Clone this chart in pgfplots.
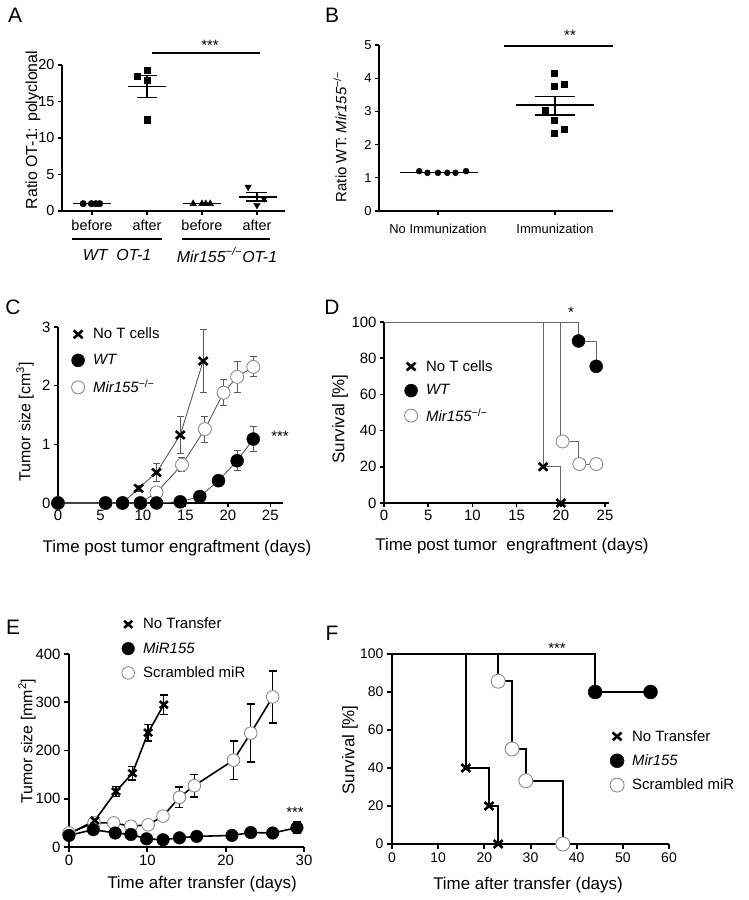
\documentclass[border=0pt]{standalone}
\usepackage{fontspec}
\setmainfont{Liberation Sans}
\usepackage{pgfplots}
\pgfplotsset{compat=1.18}
\newcommand{\fs}[1]{\fontsize{#1}{#1}\selectfont}
\newcommand{\ko}{\textsuperscript{−/−}}
\pgfplotsset{
 base/.style={scale only axis, anchor=south west, axis lines=left,
   axis line style={-, line width=#1}, tick align=outside, major tick length=4bp,
   tick style={black, line width=#1}, clip=false,
   /pgf/number format/assume math mode=true, legend cell align=left,
   legend image code/.code={\draw[##1] plot coordinates {(8bp,0bp)}; \path[draw=none,fill=none] (0bp,-7bp) rectangle (16bp,7bp);}},
 mX/.style={only marks, mark=x, black, mark size=#1, mark options={line width=2.6pt, xscale=1.15}},
 mF/.style={only marks, mark=*, black, mark size=#1},
 mO/.style={only marks, mark=*, mark size=#1, mark options={fill=white, draw=black!45, line width=0.9pt}},
 cline/.style={color=#1, line width=0.9pt, forget plot, error bars/.cd, y dir=both, y explicit,
   error bar style={color=#1, line width=0.9pt}, error mark options={rotate=90, color=#1, mark size=3.5bp, line width=0.9pt}},
 eline/.style={color=black, line width=1.6pt, forget plot, error bars/.cd, y dir=both, y explicit,
   error bar style={color=black, line width=1.4pt}, error mark options={rotate=90, color=black, mark size=4bp, line width=1.4pt}},
 sem/.style={black, line width=1.3pt, forget plot, error bars/.cd, y dir=both, y explicit,
   error bar style={line width=1.3pt}, error mark options={rotate=90, line width=1.3pt, mark size=#1}},
 leg/.style={legend style={at={#1}, anchor=north west, draw=none, fill=none,
    font=\fs{15}, inner sep=0pt, /tikz/every odd column/.append style={column sep=5bp}}},
}
\begin{document}
\begin{tikzpicture}
\useasboundingbox (0bp,0bp) rectangle (749bp,900bp);

% ---------------- A
\begin{axis}[base=1.2pt, at={(62bp,689bp)}, width=223bp, height=146bp,
  xmin=0.455, xmax=4.51, ymin=0, ymax=20, ytick={0,5,10,15,20},
  xtick={1,2,3,4}, xticklabels={before,after,before,after},
  tick label style={font=\fs{14.5}}, xticklabel style={yshift=-2bp}]
\addplot[mF=3.3bp] coordinates {(0.84,1.0)(0.99,1.0)(1.07,1.0)(1.14,1.0)};
\addplot[black, line width=1.3pt] coordinates {(0.66,1.0)(1.34,1.0)};
\addplot[only marks, mark=square*, black, mark size=3.2bp] coordinates {(1.82,18.5)(2.0,19.3)(2.0,17.9)(2.0,12.5)};
\addplot[black, line width=1.3pt] coordinates {(1.66,17.05)(2.34,17.05)};
\addplot[sem=10bp] coordinates {(2,17.05) +- (0,1.55)};
\addplot[only marks, mark=triangle*, black, mark size=3.8bp] coordinates {(2.84,1.0)(3.0,1.0)(3.07,1.0)(3.15,1.0)};
\addplot[black, line width=1.3pt] coordinates {(2.66,1.0)(3.34,1.0)};
\addplot[only marks, mark=triangle*, black, mark size=3.8bp, mark options={rotate=180}] coordinates {(3.84,3.3)(4.0,0.8)(4.13,1.7)};
\addplot[black, line width=1.3pt] coordinates {(3.68,1.93)(4.36,1.93)};
\addplot[sem=10.5bp] coordinates {(4.0,1.93) +- (0,0.57)};
\end{axis}

% ---------------- B
\begin{axis}[base=1.2pt, at={(379bp,689bp)}, width=234bp, height=166bp,
  xmin=0.496, xmax=2.496, ymin=0, ymax=5, ytick={0,1,2,3,4,5},
  xtick={1,2}, xticklabels={No Immunization, Immunization},
  tick label style={font=\fs{13}}, xticklabel style={yshift=-6bp}]
\addplot[mF=3bp] coordinates {(0.84,1.2)(0.91,1.15)(1.0,1.15)(1.08,1.15)(1.15,1.15)(1.24,1.2)};
\addplot[black, line width=1.3pt] coordinates {(0.675,1.17)(1.34,1.17)};
\addplot[only marks, mark=square*, black, mark size=3bp] coordinates {(1.99,4.15)(1.99,3.77)(2.08,3.82)(1.92,3.04)(1.99,2.72)(2.08,2.46)(1.99,2.34)};
\addplot[black, line width=1.3pt] coordinates {(1.67,3.19)(2.33,3.19)};
\addplot[sem=19.6bp] coordinates {(2,3.17) +- (0,0.28)};
\end{axis}

% ---------------- C
\begin{axis}[base=1.5pt, at={(58bp,397bp)}, width=225bp, height=176bp,
  xmin=0, xmax=26.5, ymin=0, ymax=3, xtick={0,5,10,15,20,25}, ytick={0,1,2,3},
  tick label style={font=\fs{15}},
  leg={(axis description cs:0.053,1.006)}, legend style={row sep=10bp}]
\addplot[cline=black!65] coordinates {(0,0)+-(0,0) (5.6,0)+-(0,0) (7.6,0)+-(0,0) (9.5,0.25)+-(0,0.05) (11.6,0.52)+-(0,0.15) (14.4,1.16)+-(0,0.32) (17.1,2.42)+-(0,0.53)};
\addplot[cline=black!65] coordinates {(0,0)+-(0,0) (5.6,0)+-(0,0) (7.6,0)+-(0,0) (9.7,0)+-(0,0) (11.6,0.18)+-(0,0.03) (14.6,0.65)+-(0,0.12) (17.3,1.26)+-(0,0.22) (19.5,1.88)+-(0,0.22) (21.1,2.15)+-(0,0.27) (23.0,2.32)+-(0,0.17)};
\addplot[cline=black!65] coordinates {(0,0)+-(0,0) (5.6,0)+-(0,0) (7.6,0)+-(0,0) (9.7,0)+-(0,0) (11.6,0)+-(0,0) (14.4,0.02)+-(0,0) (16.7,0.11)+-(0,0) (18.9,0.38)+-(0,0.05) (21.1,0.72)+-(0,0.17) (23.0,1.09)+-(0,0.21)};
\addplot[mX=5.5bp, forget plot] coordinates {(0,0)(5.6,0)(7.6,0)(9.5,0.25)(11.6,0.52)(14.4,1.16)(17.1,2.42)};
\addplot[mO=6.5bp, forget plot] coordinates {(0,0)(5.6,0)(7.6,0)(9.7,0)(11.6,0.18)(14.6,0.65)(17.3,1.26)(19.5,1.88)(21.1,2.15)(23.0,2.32)};
\addplot[mF=6.5bp, forget plot] coordinates {(0,0)(5.6,0)(7.6,0)(9.7,0)(11.6,0)(14.4,0.02)(16.7,0.11)(18.9,0.38)(21.1,0.72)(23.0,1.09)};
\addlegendimage{mX=5.5bp}
\addlegendimage{mF=6.5bp}
\addlegendimage{mO=6.5bp}
\legend{No T cells, \textit{WT}, \textit{Mir155}\ko}
\end{axis}

% ---------------- D
\begin{axis}[base=1.5pt, at={(384bp,397bp)}, width=225bp, height=181bp,
  xmin=0, xmax=25.45, ymin=0, ymax=100, xtick={0,5,10,15,20,25}, ytick={0,20,40,60,80,100},
  tick label style={font=\fs{15}},
  leg={(axis description cs:0.084,0.80)}, legend style={row sep=8bp}]
\addplot[const plot, black!60, line width=0.9pt, forget plot] coordinates {(0,100)(18,20)(20,0)};
\addplot[const plot, black!60, line width=0.9pt, forget plot] coordinates {(0,100)(20,34)(22,21.5)(24,21.5)};
\addplot[const plot, black!60, line width=0.9pt, forget plot] coordinates {(0,100)(22,89.5)(24,75.5)};
\addplot[mX=5.5bp, forget plot] coordinates {(18,20)(20,0)};
\addplot[mO=6.5bp, forget plot] coordinates {(20.2,34)(22.1,21.5)(24,21.5)};
\addplot[mF=6.5bp, forget plot] coordinates {(22,89.5)(24,75.5)};
\addlegendimage{mX=5.5bp}
\addlegendimage{mF=6.5bp}
\addlegendimage{mO=6.5bp}
\legend{No T cells, \textit{WT}, \textit{Mir155}\ko}
\end{axis}

% ---------------- E
\begin{axis}[base=2pt, at={(69bp,53bp)}, width=235bp, height=193bp,
  xmin=0, xmax=30, ymin=0, ymax=400, xtick={0,10,20,30}, ytick={0,100,200,300,400},
  major tick length=5bp, tick label style={font=\fs{15}},
  leg={(axis description cs:0.217,1.197)}, legend style={row sep=8bp}]
\addplot[eline] coordinates {(0,29)+-(0,0) (3.2,50)+-(0,0) (5.7,50)+-(0,0) (7.9,43)+-(0,0) (10.1,46)+-(0,0) (12.0,64)+-(0,0) (14.1,103)+-(0,21) (16.0,127)+-(0,23) (21.0,180)+-(0,40) (23.2,236)+-(0,60) (26.0,311)+-(0,54)};
\addplot[eline] coordinates {(0,27)+-(0,0) (3.3,55)+-(0,5) (6.0,115)+-(0,10) (8.1,153)+-(0,14) (10.1,237)+-(0,17) (12.1,295)+-(0,20)};
\addplot[eline] coordinates {(0,24)+-(0,0) (3.1,36)+-(0,0) (5.9,29)+-(0,0) (7.9,26)+-(0,0) (9.9,17)+-(0,0) (12.0,15)+-(0,0) (14.1,19)+-(0,0) (16.3,22)+-(0,0) (20.8,24)+-(0,0) (23.2,30)+-(0,0) (26.0,29)+-(0,0) (29.1,40)+-(0,12)};
\addplot[mO=6.3bp, forget plot] coordinates {(0,29)(3.2,50)(5.7,50)(7.9,43)(10.1,46)(12.0,64)(14.1,103)(16.0,127)(21.0,180)(23.2,236)(26.0,311)};
\addplot[mF=6.3bp, forget plot] coordinates {(0,24)(3.1,36)(5.9,29)(7.9,26)(9.9,17)(12.0,15)(14.1,19)(16.3,22)(20.8,24)(23.2,30)(26.0,29)(29.1,40)};
\addplot[mX=5bp, forget plot] coordinates {(3.3,55)(6.0,115)(8.1,153)(10.1,237)(12.1,295)};
\addlegendimage{mX=5bp}
\addlegendimage{mF=6.3bp}
\addlegendimage{mO=6.3bp}
\legend{No Transfer, \textit{MiR155}, Scrambled miR}
\end{axis}

% ---------------- F
\begin{axis}[base=2pt, at={(392bp,56bp)}, width=277bp, height=190bp,
  xmin=0, xmax=60, ymin=0, ymax=100, xtick={0,10,20,30,40,50,60}, ytick={0,20,40,60,80,100},
  major tick length=5bp, tick label style={font=\fs{14}},
  leg={(axis description cs:0.783,0.61)}, legend style={row sep=8bp}]
\addplot[const plot, black, line width=1.7pt, forget plot] coordinates {(0,100)(16,40)(21,20)(23,0)};
\addplot[const plot, black, line width=1.7pt, forget plot] coordinates {(0,100)(23,85.7)(26,50)(29,33.3)(37,0)};
\addplot[const plot, black, line width=1.7pt, forget plot] coordinates {(0,100)(44,80)(56,80)};
\addplot[mX=5.5bp, forget plot] coordinates {(16,40)(21,20)(23,0)};
\addplot[mO=7bp, forget plot] coordinates {(23,85.7)(26,50)(29,33.3)(37,0)};
\addplot[mF=7bp, forget plot] coordinates {(44,80)(56,80)};
\addlegendimage{mX=5.5bp}
\addlegendimage{mF=7bp}
\addlegendimage{mO=7bp}
\legend{No Transfer, \textit{Mir155}, Scrambled miR}
\end{axis}

% ---------------- annotations
\node[font=\fs{21}] at (15bp,885bp) {A};
\node[font=\fs{21}] at (332bp,885bp) {B};
\node[font=\fs{21}] at (13bp,593bp) {C};
\node[font=\fs{21}] at (332bp,593bp) {D};
\node[font=\fs{21}] at (13bp,273bp) {E};
\node[font=\fs{21}] at (332bp,267bp) {F};

\node[font=\fs{16}, rotate=90] at (33bp,770bp) {Ratio OT-1: polyclonal};
\node[font=\fs{15}, rotate=90] at (340bp,763bp) {Ratio WT: \textit{Mir155}\ko};
\node[font=\fs{16}, rotate=90] at (25bp,478bp) {Tumor size [cm\textsuperscript{3}]};
\node[font=\fs{17}, rotate=90] at (340bp,481bp) {Survival [\%]};
\node[font=\fs{16}, rotate=90] at (27bp,159bp) {Tumor size [mm\textsuperscript{2}]};
\node[font=\fs{17}, rotate=90] at (350bp,150bp) {Survival [\%]};

\node[font=\fs{17}] at (177bp,352bp) {Time post tumor engraftment (days)};
\node[font=\fs{17}] at (512bp,354bp) {Time post tumor\ \ engraftment (days)};
\node[font=\fs{17}] at (202bp,16bp) {Time after transfer (days)};
\node[font=\fs{17}] at (528bp,15bp) {Time after transfer (days)};

\draw[line width=1.2pt] (72bp,661bp) -- (162bp,661bp);
\draw[line width=1.2pt] (182bp,661bp) -- (270bp,661bp);
\node[font=\fs{16}\itshape] at (117bp,645bp) {WT\ \ OT-1};
\node[font=\fs{16}\itshape] at (227bp,645bp) {Mir155\textsuperscript{−/−}OT-1};

\draw[line width=1.2pt] (152bp,847bp) -- (260bp,847bp);
\node[font=\fs{15}] at (210bp,855bp) {***};
\draw[line width=1.3pt] (504bp,854bp) -- (613bp,854bp);
\node[font=\fs{15}] at (570bp,865bp) {**};
\node[font=\fs{15}] at (280bp,464bp) {***};
\node[font=\fs{15}] at (571bp,588bp) {*};
\node[font=\fs{15}] at (295bp,88bp) {***};
\node[font=\fs{15}] at (557bp,252bp) {***};
\end{tikzpicture}
\end{document}
